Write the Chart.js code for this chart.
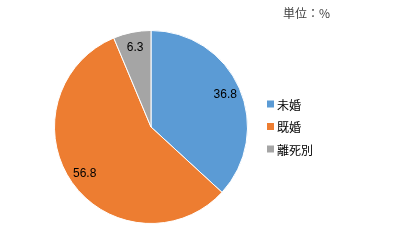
<!DOCTYPE html>
<html><head><meta charset="utf-8">
<script src="https://cdn.jsdelivr.net/npm/chart.js@4"></script>
<style>html,body{margin:0;padding:0;background:#fff;}#wrap{position:relative;width:408px;height:248px;}</style>
</head><body>
<div id="wrap"><canvas id="c" width="408" height="248"></canvas></div>
<script>
const categories = ["未婚", "既婚", "離死別"];
const values = [36.8, 56.8, 6.3];
const colors = ["#5B9BD5", "#ED7D31", "#A5A5A5"];
const unitLabel = "単位：%";

const cjk = '"Noto Sans CJK JP", "Noto Sans", sans-serif';

const labelPlugin = {
  id: 'labels',
  afterDatasetsDraw(chart) {
    const ctx = chart.ctx;
    const meta = chart.getDatasetMeta(0);
    ctx.save();
    ctx.font = '12px "Liberation Sans", Arial, sans-serif';
    ctx.fillStyle = '#000';
    ctx.textAlign = 'center';
    ctx.textBaseline = 'middle';
    meta.data.forEach((arc, i) => {
      const mid = (arc.startAngle + arc.endAngle) / 2;
      const r = arc.outerRadius * 0.84;
      ctx.fillText(values[i].toFixed(1), arc.x + Math.cos(mid) * r, arc.y + Math.sin(mid) * r);
    });
    // legend
    ctx.font = '12px ' + cjk;
    ctx.textAlign = 'left';
    const lx = 267, ly0 = 104, step = 22.5;
    categories.forEach((c, i) => {
      const y = ly0 + i * step;
      ctx.fillStyle = colors[i];
      ctx.fillRect(lx, y - 3.5, 7, 7);
      ctx.fillStyle = '#000';
      ctx.fillText(c, lx + 10, y + 1);
    });
    // unit
    ctx.fillStyle = '#404040';
    ctx.fillText(unitLabel, 283, 13);
    ctx.restore();
  }
};

new Chart(document.getElementById('c'), {
  type: 'pie',
  data: {
    labels: categories,
    datasets: [{
      data: values,
      backgroundColor: colors,
      borderColor: '#fff',
      borderWidth: 1
    }]
  },
  options: {
    responsive: false,
    animation: false,
    layout: { padding: { left: 54, right: 160, top: 30, bottom: 24 } },
    plugins: { legend: { display: false }, tooltip: { enabled: false } }
  },
  plugins: [labelPlugin]
});
</script>
</body></html>
